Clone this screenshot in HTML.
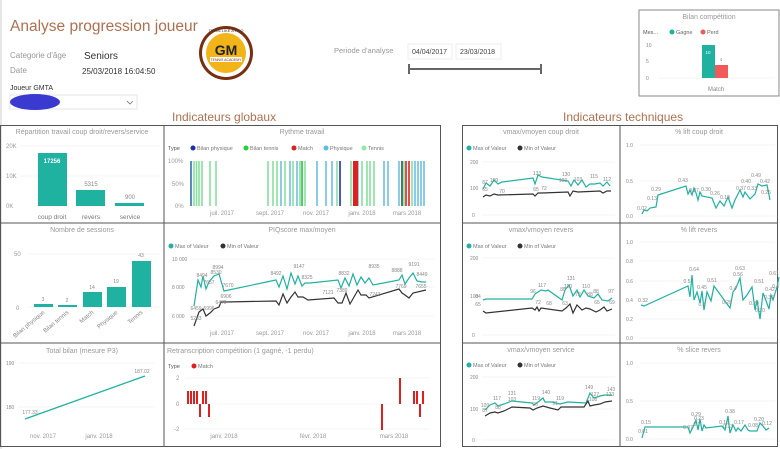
<!DOCTYPE html>
<html><head><meta charset="utf-8"><style>
body{margin:0;background:#fff;}
svg{display:block;font-family:"Liberation Sans",sans-serif;}
.t{fill:#999;font-size:7px;}
.s{fill:#888;font-size:5px;}
.ax{fill:#999;font-size:6px;}
.g{stroke:#eee;stroke-width:0.6;}
</style></head><body>
<svg width="780" height="449" viewBox="0 0 780 449">
<rect width="780" height="449" fill="#fff"/>
<line x1="1" y1="0" x2="1" y2="449" stroke="#ccc"/>
<!-- header -->
<text x="10" y="31" font-size="15.5" fill="#b07050">Analyse progression joueur</text>
<text x="10" y="58" font-size="8" fill="#999">Categorie d'âge</text>
<text x="84" y="59" font-size="10" fill="#333">Seniors</text>
<text x="10" y="73" font-size="8" fill="#999">Date</text>
<text x="82" y="74" font-size="8" fill="#333">25/03/2018 16:04:50</text>
<text x="10" y="90" font-size="7" fill="#333">Joueur GMTA</text>
<rect x="10" y="95" width="127" height="14" fill="#fff" stroke="#e4e4e4"/>
<ellipse cx="35" cy="102" rx="25" ry="8" fill="#3a3ad0"/>
<polyline points="127,101 130,104 133,101" fill="none" stroke="#777" stroke-width="0.8"/>
<!-- logo -->
<circle cx="226" cy="53" r="27" fill="#7a2e10"/>
<circle cx="226" cy="53" r="24" fill="#fff"/>
<circle cx="226" cy="53" r="20" fill="#f2b418"/>
<text x="226" y="55" font-size="14" font-weight="bold" text-anchor="middle" fill="#222">GM</text>
<rect x="210" y="57" width="32" height="5" fill="#fff"/>
<text x="226" y="61" font-size="3.5" text-anchor="middle" fill="#7a2e10">TENNIS ACADEMY</text>
<text x="226" y="32" font-size="4" text-anchor="middle" fill="#333">TRAIN LIKE A PRO</text>
<!-- period -->
<text x="334" y="53" font-size="7.5" fill="#999">Periode d'analyse</text>
<rect x="408" y="44" width="44" height="15" fill="#fff" stroke="#eee"/>
<text x="412" y="54" font-size="7" fill="#444">04/04/2017</text>
<rect x="456" y="44" width="45" height="15" fill="#fff" stroke="#eee"/>
<text x="460" y="54" font-size="7" fill="#444">23/03/2018</text>
<line x1="409" y1="69" x2="541" y2="69" stroke="#666" stroke-width="2"/>
<line x1="409" y1="64" x2="409" y2="74" stroke="#666" stroke-width="2"/>
<line x1="541" y1="64" x2="541" y2="74" stroke="#666" stroke-width="2"/>
<!-- bilan competition -->
<rect x="639" y="10" width="140" height="86" fill="#fff" stroke="#888"/>
<text x="709" y="19" class="t" text-anchor="middle">Bilan compétition</text>
<text x="643" y="34" font-size="5.5" fill="#555">Mes...</text>
<circle cx="672" cy="32" r="2.5" fill="#20b2a0"/><text x="676" y="34" font-size="5.5" fill="#666">Gagne</text>
<circle cx="703" cy="32" r="2.5" fill="#f05a5a"/><text x="707" y="34" font-size="5.5" fill="#666">Perd</text>
<text x="646" y="47" class="s">10</text><text x="646" y="63" class="s">5</text><text x="646" y="80" class="s">0</text>
<line x1="658" y1="78" x2="775" y2="78" class="g"/>
<rect x="702" y="45" width="13" height="33" fill="#20b2a0"/>
<rect x="715" y="65" width="13" height="13" fill="#f05a5a"/>
<text x="708" y="54" font-size="4.5" fill="#fff" text-anchor="middle">10</text>
<text x="721" y="61" font-size="4.5" fill="#888" text-anchor="middle">4</text>
<text x="716" y="91" font-size="6" fill="#888" text-anchor="middle">Match</text>
<!-- section titles -->
<text x="172" y="121" font-size="12" fill="#b07050">Indicateurs globaux</text>
<text x="563" y="121" font-size="12" fill="#b07050">Indicateurs techniques</text>
<!-- panel borders -->
<g fill="none" stroke="#555" stroke-width="1">
<rect x="0.5" y="125.5" width="440" height="321"/>
<line x1="164" y1="125" x2="164" y2="447"/>
<line x1="0" y1="223" x2="441" y2="223"/>
<line x1="0" y1="343" x2="441" y2="343"/>
<rect x="462.5" y="125.5" width="315" height="321"/>
<line x1="620" y1="125" x2="620" y2="447"/>
<line x1="462" y1="223" x2="778" y2="223"/>
<line x1="462" y1="343" x2="778" y2="343"/>
</g>
<!-- Repartition -->
<text x="82" y="134" class="t" text-anchor="middle">Répartition travail coup droit/revers/service</text>
<text x="6" y="148" class="ax">20K</text><text x="6" y="178" class="ax">10K</text><text x="6" y="208" class="ax">0K</text>
<line x1="20" y1="146" x2="160" y2="146" class="g"/><line x1="20" y1="176" x2="160" y2="176" class="g"/>
<rect x="38" y="153" width="29" height="53" fill="#20b2a0"/>
<rect x="76" y="190" width="29" height="16" fill="#20b2a0"/>
<rect x="115" y="203" width="29" height="3" fill="#20b2a0"/>
<text x="52" y="163" font-size="6" fill="#fff" text-anchor="middle" font-weight="bold">17256</text>
<text x="91" y="186" font-size="6" fill="#888" text-anchor="middle">5315</text>
<text x="130" y="199" font-size="6" fill="#888" text-anchor="middle">900</text>
<text x="52" y="219" font-size="6.5" fill="#777" text-anchor="middle">coup droit</text>
<text x="91" y="219" font-size="6.5" fill="#777" text-anchor="middle">revers</text>
<text x="130" y="219" font-size="6.5" fill="#777" text-anchor="middle">service</text>
<!-- Rythme -->
<text x="302" y="134" class="t" text-anchor="middle">Rythme travail</text>
<text x="168" y="150" font-size="5.5" fill="#555">Type</text>
<circle cx="193" cy="148" r="2.5" fill="#1a2fb0"/><text x="197" y="150" font-size="5.5" fill="#777">Bilan physique</text>
<circle cx="246" cy="148" r="2.5" fill="#22d23a"/><text x="250" y="150" font-size="5.5" fill="#777">Bilan tennis</text>
<circle cx="294" cy="148" r="2.5" fill="#e02020"/><text x="298" y="150" font-size="5.5" fill="#777">Match</text>
<circle cx="326" cy="148" r="2.5" fill="#58bde8"/><text x="330" y="150" font-size="5.5" fill="#777">Physique</text>
<circle cx="364" cy="148" r="2.5" fill="#8ee8a8"/><text x="368" y="150" font-size="5.5" fill="#777">Tennis</text>
<text x="168" y="163" class="ax">100%</text><text x="172" y="186" class="ax">50%</text><text x="175" y="208" class="ax">0%</text>
<g stroke-width="1.6">
<line x1="191" y1="161" x2="191" y2="206" stroke="#3070b0"/>
<g stroke="#88e0a0">
<line x1="194" y1="161" x2="194" y2="206"/><line x1="196.5" y1="161" x2="196.5" y2="206"/><line x1="199" y1="161" x2="199" y2="206"/><line x1="202" y1="161" x2="202" y2="206"/><line x1="210" y1="161" x2="210" y2="206"/><line x1="216" y1="161" x2="216" y2="206"/>
<line x1="268" y1="161" x2="268" y2="206"/><line x1="273" y1="161" x2="273" y2="206"/><line x1="277" y1="161" x2="277" y2="206"/><line x1="285" y1="161" x2="285" y2="206"/><line x1="293" y1="161" x2="293" y2="206"/><line x1="300" y1="161" x2="300" y2="206"/><line x1="305" y1="161" x2="305" y2="206"/><line x1="337" y1="161" x2="337" y2="206"/><line x1="351" y1="161" x2="351" y2="206"/><line x1="362" y1="161" x2="362" y2="206"/><line x1="367" y1="161" x2="367" y2="206"/><line x1="370" y1="161" x2="370" y2="206"/><line x1="374" y1="161" x2="374" y2="206"/><line x1="404" y1="161" x2="404" y2="206"/><line x1="412" y1="161" x2="412" y2="206"/></g>
<g stroke="#6cc0e4">
<line x1="281" y1="161" x2="281" y2="206"/><line x1="290" y1="161" x2="290" y2="206"/><line x1="297" y1="161" x2="297" y2="206"/><line x1="317" y1="161" x2="317" y2="206"/><line x1="326" y1="161" x2="326" y2="206"/><line x1="332" y1="161" x2="332" y2="206"/><line x1="358" y1="161" x2="358" y2="206"/><line x1="384" y1="161" x2="384" y2="206"/><line x1="388" y1="161" x2="388" y2="206"/><line x1="399" y1="161" x2="399" y2="206"/><line x1="415" y1="161" x2="415" y2="206"/><line x1="418" y1="161" x2="418" y2="206"/><line x1="421" y1="161" x2="421" y2="206"/><line x1="424" y1="161" x2="424" y2="206"/></g>
<line x1="302" y1="161" x2="302" y2="206" stroke="#22c83a"/>
<line x1="340" y1="161" x2="340" y2="206" stroke="#1a2fb0"/>
<line x1="402" y1="161" x2="402" y2="206" stroke="#1a6040"/>
<line x1="406" y1="161" x2="406" y2="206" stroke="#e02020"/>
<line x1="409" y1="161" x2="409" y2="206" stroke="#e02020"/>
</g>
<rect x="353" y="161" width="5" height="45" fill="#e02020"/>
<text x="222" y="215" class="ax" text-anchor="middle">juil. 2017</text>
<text x="270" y="215" class="ax" text-anchor="middle">sept. 2017</text>
<text x="316" y="215" class="ax" text-anchor="middle">nov. 2017</text>
<text x="362" y="215" class="ax" text-anchor="middle">janv. 2018</text>
<text x="407" y="215" class="ax" text-anchor="middle">mars 2018</text>
<!-- Nombre sessions -->
<text x="82" y="232" class="t" text-anchor="middle">Nombre de sessions</text>
<text x="14" y="256" class="ax">50</text><text x="16" y="310" class="ax">0</text>
<line x1="28" y1="254" x2="160" y2="254" class="g"/><line x1="28" y1="307" x2="160" y2="307" class="g"/>
<g fill="#20b2a0">
<rect x="34" y="304" width="19" height="3"/><rect x="58" y="305" width="19" height="2"/><rect x="83" y="292" width="19" height="15"/><rect x="107" y="287" width="19" height="20"/><rect x="132" y="261" width="19" height="46"/></g>
<g class="s" font-size="5.5" text-anchor="middle"><text x="43" y="301">3</text><text x="67" y="302">2</text><text x="92" y="289">14</text><text x="116" y="283">19</text><text x="141" y="257">43</text></g>
<g font-size="6" fill="#888" text-anchor="end">
<text transform="translate(45,313) rotate(-40)">Bilan physique</text>
<text transform="translate(69,313) rotate(-40)">Bilan tennis</text>
<text transform="translate(94,313) rotate(-40)">Match</text>
<text transform="translate(118,313) rotate(-40)">Physique</text>
<text transform="translate(143,313) rotate(-40)">Tennis</text></g>
<!-- PIQscore -->
<text x="302" y="232" class="t" text-anchor="middle">PIQscore max/moyen</text>
<circle cx="171" cy="246" r="2.5" fill="#20b2a0"/><text x="175" y="248" font-size="5.5" fill="#777">Max of Valeur</text>
<circle cx="223" cy="246" r="2.5" fill="#333"/><text x="227" y="248" font-size="5.5" fill="#777">Min of Valeur</text>
<text x="172" y="261" class="s">10 000</text><text x="172" y="289" class="s">8 000</text><text x="172" y="318" class="s">6 000</text>
<line x1="190" y1="259" x2="435" y2="259" class="g"/><line x1="190" y1="287" x2="435" y2="287" class="g"/><line x1="190" y1="316" x2="435" y2="316" class="g"/>
<polyline fill="none" stroke="#20b2a0" stroke-width="1.2" points="194,306 198,280 201,287 203,276 206,289 209,282 214,276 219,274 224,291 276,280 279,287 283,276 287,289 291,273 295,284 298,276 302,286 305,283 310,283 338,280 341,288 345,278 349,286 353,274 357,285 361,277 365,283 369,278 373,285 399,280 402,275 405,284 409,278 413,273 417,281 422,282 426,282"/>
<polyline fill="none" stroke="#333" stroke-width="1.2" points="194,326 199,312 203,309 206,316 210,313 214,309 219,307 221,302 225,302 276,301 279,305 283,294 287,303 291,297 295,292 298,297 303,297 308,300 334,298 338,303 342,303 346,293 350,304 354,297 358,290 361,295 366,295 369,298 399,289 402,293 405,295 409,298 413,293 426,290"/>
<g class="s" text-anchor="middle"><text x="196" y="310">6459</text><text x="196" y="320">5283</text><text x="202" y="277">8494</text><text x="209" y="284">7657</text><text x="218" y="269">8994</text><text x="216" y="274">8530</text><text x="228" y="287">7670</text><text x="226" y="298">6906</text><text x="209" y="310">5996</text><text x="221" y="304">6470</text><text x="276" y="275">8492</text><text x="299" y="268">9147</text><text x="307" y="279">8325</text><text x="328" y="294">7121</text><text x="344" y="275">8832</text><text x="342" y="292">7389</text><text x="374" y="268">8935</text><text x="375" y="296">7243</text><text x="397" y="272">8888</text><text x="414" y="266">9191</text><text x="422" y="276">8449</text><text x="401" y="288">7769</text><text x="421" y="288">7655</text></g>
<text x="222" y="335" class="ax" text-anchor="middle">juil. 2017</text>
<text x="270" y="335" class="ax" text-anchor="middle">sept. 2017</text>
<text x="316" y="335" class="ax" text-anchor="middle">nov. 2017</text>
<text x="362" y="335" class="ax" text-anchor="middle">janv. 2018</text>
<text x="407" y="335" class="ax" text-anchor="middle">mars 2018</text>
<!-- Total bilan -->
<text x="82" y="353" class="t" text-anchor="middle">Total bilan (mesure P3)</text>
<text x="6" y="365" class="s">190</text><text x="6" y="409" class="s">180</text>
<line x1="18" y1="363" x2="155" y2="363" class="g"/><line x1="18" y1="407" x2="155" y2="407" class="g"/>
<line x1="25" y1="419" x2="145" y2="376" stroke="#20b2a0" stroke-width="1.3"/>
<text x="30" y="414" class="s" text-anchor="middle">177.33</text>
<text x="142" y="373" class="s" text-anchor="middle">187.02</text>
<text x="43" y="438" class="ax" text-anchor="middle">nov. 2017</text>
<text x="99" y="438" class="ax" text-anchor="middle">janv. 2018</text>
<!-- Retranscription -->
<text x="167" y="353" class="t">Retranscription compétition (1 gagné, -1 perdu)</text>
<text x="168" y="368" font-size="5.5" fill="#555">Type</text>
<circle cx="194" cy="366" r="2.5" fill="#e02020"/><text x="198" y="368" font-size="5.5" fill="#777">Match</text>
<text x="176" y="380" class="ax">2</text><text x="176" y="406" class="ax">0</text><text x="174" y="431" class="ax">-2</text>
<line x1="185" y1="378" x2="430" y2="378" class="g"/><line x1="185" y1="404" x2="430" y2="404" class="g"/><line x1="185" y1="429" x2="430" y2="429" class="g"/>
<g fill="#e02020">
<rect x="187" y="391" width="2" height="13"/><rect x="190" y="391" width="2" height="13"/><rect x="193" y="391" width="2" height="13"/><rect x="196" y="391" width="2" height="13"/><rect x="199" y="404" width="2" height="13"/><rect x="202" y="391" width="2" height="13"/><rect x="205" y="391" width="2" height="13"/><rect x="208" y="404" width="2" height="13"/>
<rect x="381" y="404" width="2" height="26"/><rect x="399" y="378" width="2" height="26"/><rect x="413" y="391" width="2" height="13"/><rect x="416" y="391" width="2" height="13"/><rect x="419" y="404" width="2" height="13"/><rect x="422" y="391" width="2" height="13"/></g>
<text x="224" y="438" class="ax" text-anchor="middle">janv. 2018</text>
<text x="313" y="438" class="ax" text-anchor="middle">févr. 2018</text>
<text x="394" y="438" class="ax" text-anchor="middle">mars 2018</text>

<!-- vmax cd -->
<text x="541" y="134" class="t" text-anchor="middle">vmax/vmoyen coup droit</text>
<circle cx="469" cy="148" r="2.5" fill="#20b2a0"/><text x="473" y="150" font-size="5.5" fill="#777">Max of Valeur</text>
<circle cx="520" cy="148" r="2.5" fill="#333"/><text x="524" y="150" font-size="5.5" fill="#777">Min of Valeur</text>
<text x="470" y="164" class="s">200</text><text x="470" y="190" class="s">100</text><text x="472" y="217" class="s">0</text>
<line x1="482" y1="162" x2="615" y2="162" class="g"/><line x1="482" y1="188" x2="615" y2="188" class="g"/><line x1="482" y1="215" x2="615" y2="215" class="g"/>
<polyline fill="none" stroke="#20b2a0" stroke-width="1.2" points="483,189 486,183 490,186 494,180 498,184 502,182 533,178 535,184 538,175 542,177 568,181 571,186 574,180 578,185 582,180 586,187 590,184 595,184 600,183 603,186 607,182 610,186"/>
<polyline fill="none" stroke="#333" stroke-width="1.2" points="483,197 486,195 490,196 494,194 498,195 533,194 535,196 538,193 542,193 568,192 570,196 573,191 578,192 600,191 603,193 607,191 611,191"/>
<g class="s" text-anchor="middle"><text x="485" y="184">87</text><text x="494" y="182">109</text><text x="485" y="191">65</text><text x="502" y="193">70</text><text x="536" y="191">65</text><text x="544" y="190">72</text><text x="537" y="175">133</text><text x="566" y="176">130</text><text x="563" y="182">103</text><text x="578" y="181">103</text><text x="594" y="178">115</text><text x="607" y="181">112</text></g>
<!-- lift cd -->
<text x="699" y="134" class="t" text-anchor="middle">% lift coup droit</text>
<text x="626" y="147" class="s">1.0</text><text x="626" y="183" class="s">0.5</text><text x="626" y="218" class="s">0.0</text>
<line x1="640" y1="145" x2="775" y2="145" class="g"/><line x1="640" y1="181" x2="775" y2="181" class="g"/><line x1="640" y1="216" x2="775" y2="216" class="g"/>
<polyline fill="none" stroke="#20b2a0" stroke-width="1.2" points="642,214 644,210 647,211 650,208 656,207 658,195 686,186 688,194 690,190 692,195 694,188 696,193 698,200 700,192 702,196 712,198 716,208 720,201 724,206 728,197 732,208 735,200 740,190 743,197 745,192 750,199 755,194 758,184 762,186 767,185 770,200"/>
<g class="s" text-anchor="middle"><text x="642" y="210">0.02</text><text x="656" y="191">0.29</text><text x="652" y="200">0.13</text><text x="683" y="182">0.43</text><text x="694" y="192">0.27</text><text x="706" y="191">0.30</text><text x="715" y="195">0.26</text><text x="725" y="199">0.18</text><text x="741" y="190">0.37</text><text x="746" y="183">0.40</text><text x="752" y="190">0.33</text><text x="756" y="177">0.49</text><text x="765" y="183">0.42</text><text x="766" y="194">0.25</text></g>
<!-- vmax revers -->
<text x="541" y="232" class="t" text-anchor="middle">vmax/vmoyen revers</text>
<circle cx="469" cy="246" r="2.5" fill="#20b2a0"/><text x="473" y="248" font-size="5.5" fill="#777">Max of Valeur</text>
<circle cx="520" cy="246" r="2.5" fill="#333"/><text x="524" y="248" font-size="5.5" fill="#777">Min of Valeur</text>
<text x="470" y="260" class="s">200</text><text x="470" y="298" class="s">100</text><text x="472" y="337" class="s">0</text>
<line x1="482" y1="258" x2="615" y2="258" class="g"/><line x1="482" y1="296" x2="615" y2="296" class="g"/><line x1="482" y1="335" x2="615" y2="335" class="g"/>
<polyline fill="none" stroke="#20b2a0" stroke-width="1.2" points="483,300 486,299 532,299 535,294 538,292 541,290 546,291 548,290 562,300 565,290 569,285 573,296 577,290 580,297 584,290 588,296 594,298 598,294 602,300 608,301 612,298"/>
<polyline fill="none" stroke="#333" stroke-width="1.2" points="483,311 486,313 532,308 535,310 537,307 539,311 541,308 562,311 566,308 570,304 573,313 577,305 582,310 586,308 590,309 596,312 600,310 604,307 607,311 612,309"/>
<g class="s" text-anchor="middle"><text x="478" y="298">84</text><text x="478" y="306">65</text><text x="533" y="293">96</text><text x="542" y="287">117</text><text x="538" y="304">72</text><text x="549" y="305">68</text><text x="563" y="291">88</text><text x="565" y="305">63</text><text x="568" y="288">110</text><text x="571" y="280">131</text><text x="578" y="296">72</text><text x="586" y="288">110</text><text x="590" y="296">88</text><text x="596" y="293">88</text><text x="597" y="304">65</text><text x="611" y="293">97</text><text x="612" y="304">69</text></g>
<!-- lift revers -->
<text x="699" y="232" class="t" text-anchor="middle">% lift revers</text>
<text x="626" y="244" class="s">1.0</text><text x="626" y="263" class="s">0.8</text><text x="626" y="283" class="s">0.6</text><text x="626" y="302" class="s">0.4</text><text x="626" y="321" class="s">0.2</text><text x="626" y="340" class="s">0.0</text>
<g class="g"><line x1="640" y1="242" x2="775" y2="242"/><line x1="640" y1="261" x2="775" y2="261"/><line x1="640" y1="281" x2="775" y2="281"/><line x1="640" y1="300" x2="775" y2="300"/><line x1="640" y1="319" x2="775" y2="319"/><line x1="640" y1="338" x2="775" y2="338"/></g>
<polyline fill="none" stroke="#20b2a0" stroke-width="1.2" points="641,305 644,306 688,286 690,297 692,275 694,300 697,292 700,303 702,291 704,310 707,292 711,301 714,286 730,308 733,292 736,288 740,278 743,300 747,295 752,287 755,310 757,300 760,319 763,293 765,298 769,309 771,295 773,300 777,287 779,277"/>
<g class="s" text-anchor="middle"><text x="643" y="302">0.32</text><text x="687" y="283">0.5</text><text x="694" y="271">0.64</text><text x="702" y="289">0.45</text><text x="712" y="282">0.51</text><text x="702" y="306">0.3</text><text x="727" y="304">0.28</text><text x="733" y="290">0.4</text><text x="738" y="276">0.56</text><text x="740" y="270">0.63</text><text x="759" y="283">0.51</text><text x="754" y="305">0.20</text><text x="760" y="312">0.20</text><text x="770" y="291">0.42</text><text x="769" y="299">0.36</text><text x="777" y="288">0.47</text><text x="774" y="275">0.61</text></g>
<!-- vmax service -->
<text x="541" y="352" class="t" text-anchor="middle">vmax/vmoyen service</text>
<circle cx="469" cy="365" r="2.5" fill="#20b2a0"/><text x="473" y="367" font-size="5.5" fill="#777">Max of Valeur</text>
<circle cx="520" cy="365" r="2.5" fill="#333"/><text x="524" y="367" font-size="5.5" fill="#777">Min of Valeur</text>
<text x="470" y="379" class="s">200</text><text x="470" y="411" class="s">100</text><text x="472" y="442" class="s">0</text>
<line x1="482" y1="377" x2="615" y2="377" class="g"/><line x1="482" y1="409" x2="615" y2="409" class="g"/><line x1="482" y1="440" x2="615" y2="440" class="g"/>
<polyline fill="none" stroke="#20b2a0" stroke-width="1.2" points="485,410 490,405 495,403 498,406 504,404 512,401 532,403 534,405 537,403 543,398 545,402 552,402 560,404 568,402 586,403 590,393 594,398 600,396 605,395 612,395"/>
<polyline fill="none" stroke="#333" stroke-width="1.2" points="485,416 490,413 495,412 498,413 504,411 512,407 530,408 533,410 537,408 543,406 550,408 558,410 561,407 584,407 588,401 590,406 594,405 600,404 605,402 612,401"/>
<g class="s" text-anchor="middle"><text x="485" y="407">109</text><text x="485" y="412">87</text><text x="497" y="400">117</text><text x="498" y="409">88</text><text x="512" y="395">131</text><text x="512" y="401">103</text><text x="536" y="400">119</text><text x="535" y="406">96</text><text x="546" y="394">140</text><text x="560" y="400">119</text><text x="555" y="405">91</text><text x="589" y="389">149</text><text x="595" y="396">127</text><text x="593" y="401">108</text><text x="611" y="391">143</text><text x="610" y="396">123</text></g>
<!-- slice revers -->
<text x="699" y="352" class="t" text-anchor="middle">% slice revers</text>
<text x="626" y="365" class="s">1.0</text><text x="626" y="403" class="s">0.5</text><text x="626" y="441" class="s">0.0</text>
<line x1="640" y1="363" x2="775" y2="363" class="g"/><line x1="640" y1="401" x2="775" y2="401" class="g"/><line x1="640" y1="439" x2="775" y2="439" class="g"/>
<polyline fill="none" stroke="#20b2a0" stroke-width="1.2" points="642,438 645,427 688,427 690,433 693,427 696,420 698,430 700,419 702,431 704,425 706,428 722,426 725,430 728,416 730,433 733,425 736,431 738,428 741,431 745,425 748,430 750,431 757,431 760,423 763,426 766,430 769,428"/>
<g class="s" text-anchor="middle"><text x="646" y="424">0.15</text><text x="643" y="433">0.01</text><text x="688" y="429">0.07</text><text x="696" y="416">0.29</text><text x="699" y="420">0.23</text><text x="697" y="426">0.1</text><text x="724" y="424">0.15</text><text x="730" y="413">0.38</text><text x="728" y="428">0.13</text><text x="739" y="424">0.17</text><text x="753" y="427">0.08</text><text x="759" y="421">0.20</text><text x="767" y="425">0.12</text></g>
</svg>
</body></html>
